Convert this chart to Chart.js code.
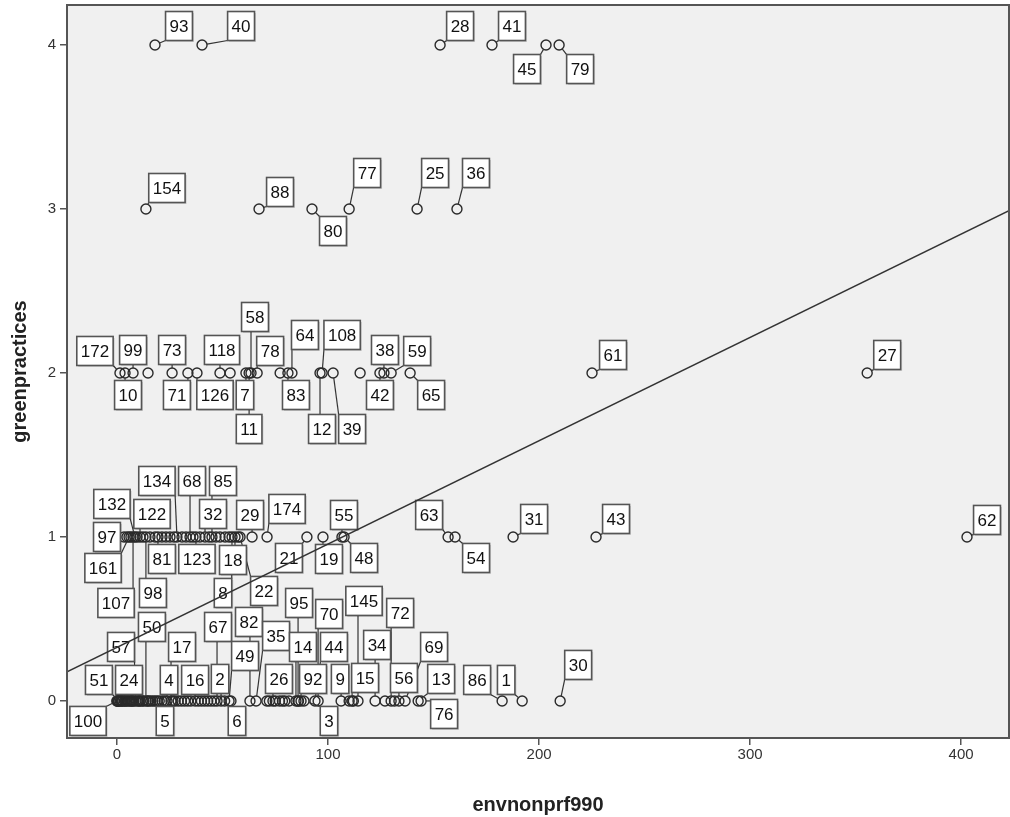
<!DOCTYPE html>
<html>
<head>
<meta charset="utf-8">
<script src="https://cdn.jsdelivr.net/npm/chart.js@4"></script>
<style>
  html, body { margin: 0; padding: 0; background: #fff; }
</style>
</head>
<body>
<canvas id="chart" width="1010" height="817"></canvas>
<script>
// labelled cases (case number, envnonprf990, greenpractices)
const caseIds = [
  93, 40, 28, 41, 45, 79,
  154, 88, 80, 77, 25, 36,
  172, 10, 99, 73, 71, 126, 118, 7, 11, 58, 78, 83, 64, 12, 108, 39, 42, 38, 59, 65, 61, 27,
  97, 161, 107, 132, 122, 98, 81, 134, 68, 123, 32, 85, 8, 18, 22, 29, 174, 21, 19, 55, 48, 63, 54, 31, 43, 62,
  100, 51, 24, 57, 50, 5, 4, 17, 16, 67, 2, 49, 6, 82, 35, 26, 14, 95, 92, 3, 44, 70, 9, 15, 145, 34, 72, 56, 69, 13, 76, 86, 1, 30
];
const envnonprf990 = [
  18, 40.3, 153.1, 177.7, 203.3, 209.5,
  13.7, 67.3, 92.4, 110, 142.2, 161.1,
  1.4, 3.8, 7.6, 26.1, 33.6, 37.9, 48.8, 61.1, 62.6, 63.5, 66.4, 81, 82.9, 96.2, 97.2, 102.4, 124.6, 126.5, 129.9, 138.9, 225.1, 355.5,
  3.3, 5.7, 7.6, 8.5, 10.9, 13.7, 19.4, 28.4, 34.6, 37.4, 41.7, 45, 54.5, 55.9, 58.3, 64, 71.1, 90, 97.6, 106.6, 107.6, 156.9, 160.2, 187.7, 227, 402.8,
  0, 0.9, 5.2, 9, 13.7, 21.3, 23.7, 25.6, 37, 47.4, 49.3, 53.1, 54, 63, 65.9, 73.9, 84.8, 85.8, 87.2, 88.6, 93.8, 95.3, 106.2, 111.4, 114.2, 122.3, 129.9, 133.6, 136.5, 142.7, 144.1, 182.5, 192, 210
];
const greenpractices = [
  4, 4, 4, 4, 4, 4,
  3, 3, 3, 3, 3, 3,
  2, 2, 2, 2, 2, 2, 2, 2, 2, 2, 2, 2, 2, 2, 2, 2, 2, 2, 2, 2, 2, 2,
  1, 1, 1, 1, 1, 1, 1, 1, 1, 1, 1, 1, 1, 1, 1, 1, 1, 1, 1, 1, 1, 1, 1, 1, 1, 1,
  0, 0, 0, 0, 0, 0, 0, 0, 0, 0, 0, 0, 0, 0, 0, 0, 0, 0, 0, 0, 0, 0, 0, 0, 0, 0, 0, 0, 0, 0, 0, 0, 0, 0
];

// cases without a visible label (dense clusters)
const extraEnv = [
  14.7, 53.6, 77.3, 115.2,
  4.7, 6.6, 9.5, 12.3, 15.6, 18, 21.3, 23.2, 25.1, 27, 30.8, 32.7, 36, 39.3, 43.6, 46.9, 48.8, 51.2, 53.1, 57.3,
  0, 0.3, 0.6, 1.5, 2, 2.4, 2.8, 3.5, 4, 4.5, 6, 6.5, 7, 7.5, 8, 10, 10.5, 11, 12, 12.5, 14.5, 15, 16, 17, 18, 19, 20,
  22.5, 26.5, 27.5, 29, 30.5, 32, 33.5, 35, 38.5, 40, 41.5, 43, 44.5, 46, 51, 71, 72.2, 75, 77, 78.4, 79.5, 81.5, 86,
  110, 112, 127, 131.5
];
const extraGreen = [
  2, 2, 2, 2,
  1, 1, 1, 1, 1, 1, 1, 1, 1, 1, 1, 1, 1, 1, 1, 1, 1, 1, 1, 1,
  0, 0, 0, 0, 0, 0, 0, 0, 0, 0, 0, 0, 0, 0, 0, 0, 0, 0, 0, 0, 0, 0, 0, 0, 0, 0, 0,
  0, 0, 0, 0, 0, 0, 0, 0, 0, 0, 0, 0, 0, 0, 0, 0, 0, 0, 0, 0, 0, 0, 0, 0,
  0, 0, 0, 0
];

// fit line end points
const fitX = [-23.7, 422.7];
const fitY = [0.177, 2.99];

const xTicks = [0, 100, 200, 300, 400];
const yTicks = [0, 1, 2, 3, 4];

// label box centre, in pixels from its point
const labelOffsets = {
  93: [24, -19], 40: [39, -19], 28: [20, -19], 41: [20, -19], 45: [-19, 24], 79: [21, 24],
  154: [21, -21], 88: [21, -17], 80: [21, 22], 77: [18, -36], 25: [18, -36], 36: [19, -36],
  172: [-25, -22], 10: [3, 22], 99: [0, -23], 73: [0, -23], 71: [-11, 22], 126: [18, 22],
  118: [2, -23], 7: [-1, 22], 11: [0, 56], 58: [4, -56], 78: [13, -22], 83: [8, 22],
  64: [13, -38], 12: [2, 56], 108: [20, -38], 39: [19, 56], 42: [0, 22], 38: [1, -23],
  59: [26, -22], 65: [21, 22], 61: [21, -18], 27: [20, -18],
  97: [-17, 0], 161: [-26, 31], 107: [-17, 66], 132: [-23, -33], 122: [12, -23], 98: [7, 56],
  81: [4, 22], 134: [-20, -56], 68: [2, -56], 123: [1, 22], 32: [8, -23], 85: [11, -56],
  8: [-9, 56], 18: [-2, 23], 22: [24, 54], 29: [-2, -22], 174: [20, -28], 21: [-18, 21],
  19: [6, 22], 55: [2, -22], 48: [20, 21], 63: [-19, -22], 54: [21, 21], 31: [21, -18],
  43: [20, -18], 62: [20, -17],
  100: [-29, 20], 51: [-20, -21], 24: [1, -21], 57: [-15, -54], 50: [6, -74], 5: [3, 20],
  4: [2, -21], 17: [11, -54], 16: [0, -21], 67: [1, -74], 2: [-1, -22], 49: [16, -45],
  6: [6, 20], 82: [-1, -79], 35: [20, -65], 26: [6, -22], 14: [7, -54], 95: [1, -98],
  92: [12, -22], 3: [25, 20], 44: [19, -54], 70: [11, -87], 9: [-1, -22], 15: [13, -23],
  145: [6, -100], 34: [2, -56], 72: [9, -88], 56: [5, -23], 69: [29, -54], 13: [23, -22],
  76: [23, 13], 86: [-25, -21], 1: [-16, -21], 30: [18, -36]
};

const FONT = '"Liberation Sans", Arial, sans-serif';

const framePlugin = {
  id: 'frame',
  beforeDraw(chart) {
    const { ctx, chartArea: a } = chart;
    ctx.save();
    ctx.fillStyle = '#f0f0f0';
    ctx.fillRect(a.left, a.top, a.right - a.left, a.bottom - a.top);
    ctx.restore();
  },
  afterDraw(chart) {
    const { ctx, chartArea: a } = chart;
    ctx.save();
    ctx.strokeStyle = '#555';
    ctx.lineWidth = 2;
    ctx.strokeRect(a.left, a.top, a.right - a.left, a.bottom - a.top);
    ctx.restore();
  }
};

const labelPlugin = {
  id: 'caseLabels',
  afterDatasetDraw(chart, args) {
    if (args.index !== 1) return;
    const ctx = chart.ctx;
    const meta = chart.getDatasetMeta(0);
    ctx.save();
    ctx.font = '17px ' + FONT;
    const boxes = meta.data.map((pt, i) => {
      const id = caseIds[i];
      const off = labelOffsets[id] || [20, -20];
      const w = ctx.measureText(String(id)).width + 8;
      const h = 29;
      const cx = pt.x + off[0];
      const cy = pt.y + off[1];
      return { id, px: pt.x, py: pt.y, x: cx - w / 2, y: cy - h / 2, w, h, cx, cy };
    });

    // leader lines
    ctx.strokeStyle = '#333';
    ctx.lineWidth = 1.2;
    boxes.forEach(b => {
      const nx = Math.min(Math.max(b.px, b.x), b.x + b.w);
      const ny = Math.min(Math.max(b.py, b.y), b.y + b.h);
      const d = Math.hypot(nx - b.px, ny - b.py);
      if (d <= 5) return;
      ctx.beginPath();
      ctx.moveTo(b.px + (nx - b.px) * 5 / d, b.py + (ny - b.py) * 5 / d);
      ctx.lineTo(nx, ny);
      ctx.stroke();
    });

    // boxes
    boxes.forEach(b => {
      ctx.fillStyle = 'rgba(0,0,0,0.15)';
      ctx.fillRect(b.x + 1.5, b.y + 1.5, b.w, b.h);
      ctx.fillStyle = '#fff';
      ctx.fillRect(b.x, b.y, b.w, b.h);
      ctx.strokeStyle = '#555';
      ctx.lineWidth = 1.6;
      ctx.strokeRect(b.x, b.y, b.w, b.h);
      ctx.fillStyle = '#111';
      ctx.textAlign = 'center';
      ctx.textBaseline = 'middle';
      ctx.fillText(String(b.id), b.cx, b.cy + 1);
    });
    ctx.restore();
  }
};

const pointStyle = {
  pointStyle: 'circle',
  pointRadius: 5,
  borderColor: '#2a2a2a',
  borderWidth: 1.4,
  backgroundColor: 'rgba(0,0,0,0)'
};

const ctx = document.getElementById('chart').getContext('2d');
new Chart(ctx, {
  type: 'scatter',
  data: {
    datasets: [
      Object.assign({
        data: envnonprf990.map((v, i) => ({ x: v, y: greenpractices[i] })),
        order: 3
      }, pointStyle),
      Object.assign({
        data: extraEnv.map((v, i) => ({ x: v, y: extraGreen[i] })),
        order: 2
      }, pointStyle),
      {
        data: fitX.map((v, i) => ({ x: v, y: fitY[i] })),
        showLine: true,
        pointRadius: 0,
        borderColor: '#333',
        borderWidth: 1.5,
        order: 1
      }
    ]
  },
  options: {
    responsive: false,
    animation: false,
    events: [],
    // no auto padding for point overflow, so the plot frame sits where we put it
    layout: { autoPadding: false, padding: { top: 5, right: 1, left: 0, bottom: 0 } },
    plugins: { legend: { display: false }, tooltip: { enabled: false } },
    scales: {
      x: {
        type: 'linear',
        min: -23.7,
        max: 422.7,
        afterBuildTicks: axis => { axis.ticks = xTicks.map(v => ({ value: v })); },
        afterFit: s => { s.height = 79; s.paddingLeft = 0; s.paddingRight = 0; },
        grid: { drawOnChartArea: false, drawTicks: true, tickLength: 7, color: '#555', lineWidth: 1.5 },
        border: { color: '#444', width: 2 },
        ticks: { font: { family: FONT, size: 15 }, color: '#333', padding: 1, maxRotation: 0 },
        title: {
          display: true,
          text: 'envnonprf990',
          color: '#222',
          font: { family: FONT, size: 20, weight: 'bold' },
          padding: { top: 0, bottom: 0 }
        }
      },
      y: {
        type: 'linear',
        min: -0.226,
        max: 4.244,
        afterBuildTicks: axis => { axis.ticks = yTicks.map(v => ({ value: v })); },
        afterFit: s => { s.width = 67; s.paddingTop = 0; s.paddingBottom = 0; },
        grid: { drawOnChartArea: false, drawTicks: true, tickLength: 7, color: '#555', lineWidth: 1.5 },
        border: { color: '#444', width: 2 },
        ticks: { font: { family: FONT, size: 15 }, color: '#333', padding: 4 },
        title: {
          display: true,
          text: 'greenpractices',
          color: '#222',
          font: { family: FONT, size: 20, weight: 'bold' },
          padding: { top: 8, bottom: 0 }
        }
      }
    }
  },
  plugins: [framePlugin, labelPlugin]
});
</script>
</body>
</html>
